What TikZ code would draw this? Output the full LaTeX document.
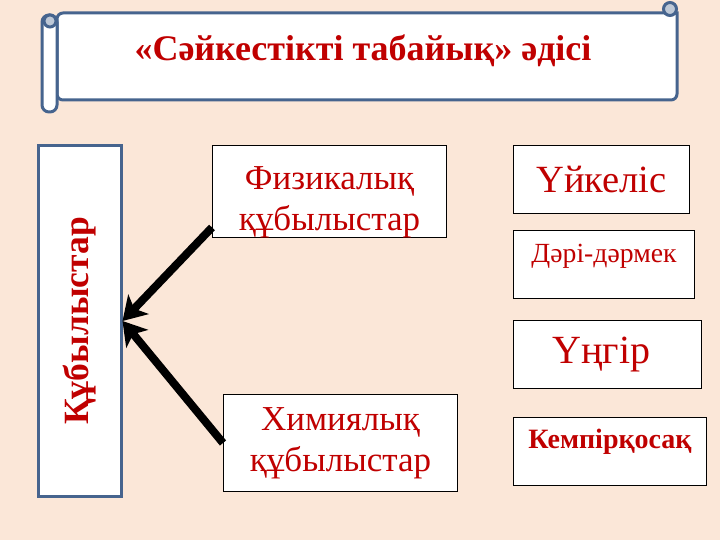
\documentclass[tikz,border=0pt]{standalone}
\usepackage{fontspec}
\setmainfont{Liberation Serif}
\usetikzlibrary{arrows.meta}
\usetikzlibrary{positioning}
\definecolor{bgpeach}{RGB}{251,231,216}
\definecolor{darkred}{RGB}{192,0,0}
\definecolor{scrollblue}{RGB}{70,100,142}
\definecolor{curlgrey}{RGB}{190,200,214}
\tikzset{
    box/.style={
        draw=black,
        fill=white,
        line width=1pt,
        anchor=north west,
        inner sep=0pt,
        text=darkred,
        align=center
    },
    scroll/.style={
        draw=scrollblue,
        fill=white,
        line width=3pt
    },
    bigarrow/.style={
        draw,
        line width=8pt,
        -{Stealth[length=23pt, width=28pt, inset=6pt]}
    }
}

\begin{document}
\begin{tikzpicture}[x=1pt, y=-1pt]
    % Background
    \fill[bgpeach] (0,0) rectangle (720,540);

    % Scroll banner
    \draw[scroll] (57,13) -- (677,13) [rounded corners=6pt] -- (677,100) -- (57,100) -- cycle;
    \draw[scroll, rounded corners=7pt] (42,15) rectangle (57,112);
    \filldraw[scroll, fill=curlgrey] (50,21) circle (6pt);
    \filldraw[scroll, fill=curlgrey] (670,9) circle (6.5pt);
    \node[text=darkred, font=\bfseries\fontsize{36}{40}\selectfont] (title) at (363,51) {«Сәйкестікті табайық» әдісі};

    % Left box
    \node[box, draw=scrollblue, line width=3pt, anchor=center,
          minimum width=83pt, minimum height=350pt] (kub) at (79.5,321)
          {\rotatebox{90}{\bfseries\fontsize{35.5}{38}\selectfont Құбылыстар}};

    % Middle boxes
    \node[box, minimum width=234pt, minimum height=91pt,
          font=\fontsize{35}{41}\selectfont] (fiz) at (212,145) {\rule{0pt}{44pt}Физикалық\\құбылыстар};
    \node[box, minimum width=234pt, minimum height=97pt,
          font=\fontsize{35}{41}\selectfont] (him) at (223,394) {Химиялық\\құбылыстар};

    % Right boxes
    \node[box, minimum width=176pt, minimum height=68pt,
          font=\fontsize{38.5}{40}\selectfont] (uykel) at (513,145) {Үйкеліс};
    \node[box, minimum width=181pt, minimum height=68pt, text depth=22pt,
          font=\fontsize{27.7}{30}\selectfont] (dari) at (513,230) {Дәрі-дәрмек};
    \node[box, minimum width=188pt, minimum height=68pt,
          font=\fontsize{40}{42}\selectfont] (ungir) at (513,320) {Үңгір\hspace{12pt}};
    \node[box, minimum width=193pt, minimum height=68pt, text depth=25pt,
          font=\bfseries\fontsize{28}{30}\selectfont] (kemp) at (513,417) {Кемпірқосақ};

    % Arrows
    \draw[bigarrow] ([yshift=11pt]fiz.south west) -- (kub.east);
    \draw[bigarrow] (him.west) -- (kub.east);
\end{tikzpicture}
\end{document}
